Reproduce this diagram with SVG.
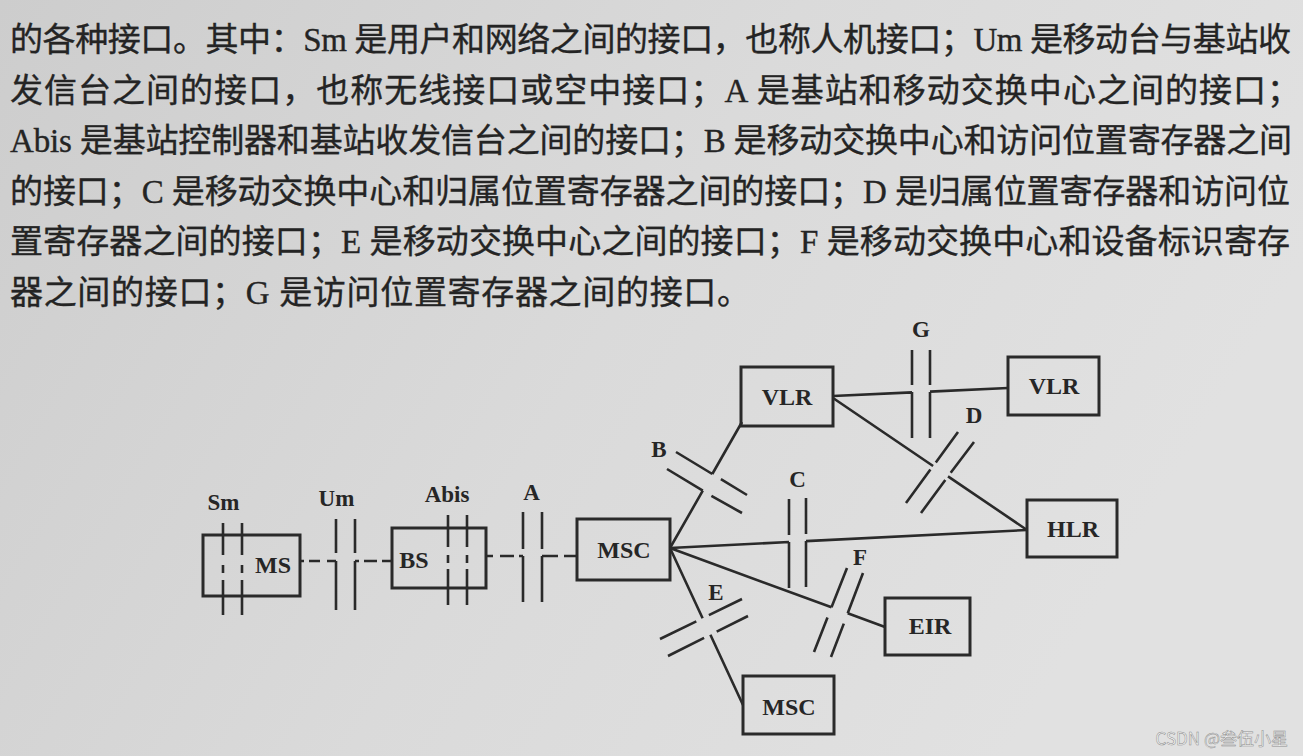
<svg xmlns="http://www.w3.org/2000/svg" width="1303" height="756" viewBox="0 0 1303 756">
<defs>
<linearGradient id="paper" x1="0" y1="0" x2="1" y2="0.35">
<stop offset="0" stop-color="#cdcdcd"/>
<stop offset="0.55" stop-color="#dadada"/>
<stop offset="1" stop-color="#e1e1e1"/>
</linearGradient>
<style>
.body{font-family:"Liberation Serif","Noto Sans CJK SC",serif;font-size:33px;fill:#242424;stroke:#242424;stroke-width:0.35}
.lbl{font-family:"Liberation Serif",serif;font-weight:bold;font-size:23px;fill:#262626;text-anchor:middle}
.nm{font-family:"Liberation Serif",serif;font-weight:bold;font-size:24px;fill:#262626;text-anchor:middle}
.box{fill:none;stroke:#2a2a2a;stroke-width:3}
.ln{fill:none;stroke:#2a2a2a;stroke-width:2.6}
.wm{font-family:"Noto Sans CJK SC",sans-serif;font-size:17px;fill:#f8f8f8;stroke:#8a8a8a;stroke-width:0.5;text-anchor:end}
</style>
</defs>
<rect x="0" y="0" width="1303" height="756" fill="url(#paper)"/>

<g id="text">
<text class="body" x="10" y="51" textLength="1281" lengthAdjust="spacing">的各种接口。其中：Sm 是用户和网络之间的接口，也称人机接口；Um 是移动台与基站收</text>
<text class="body" x="10" y="101.5" textLength="1290" lengthAdjust="spacing">发信台之间的接口，也称无线接口或空中接口；A 是基站和移动交换中心之间的接口；</text>
<text class="body" x="10" y="152" textLength="1282" lengthAdjust="spacing">Abis 是基站控制器和基站收发信台之间的接口；B 是移动交换中心和访问位置寄存器之间</text>
<text class="body" x="10" y="202.5" textLength="1280" lengthAdjust="spacing">的接口；C 是移动交换中心和归属位置寄存器之间的接口；D 是归属位置寄存器和访问位</text>
<text class="body" x="10" y="253" textLength="1280" lengthAdjust="spacing">置寄存器之间的接口；E 是移动交换中心之间的接口；F 是移动交换中心和设备标识寄存</text>
<text class="body" x="10" y="303.5" textLength="740" lengthAdjust="spacing">器之间的接口；G 是访问位置寄存器之间的接口。</text>
</g>

<g id="node-MS"><rect class="box" x="203" y="535" width="97" height="61"/><text class="nm" x="273" y="573">MS</text></g>
<g id="node-BS"><rect class="box" x="392" y="528" width="94" height="60"/><text class="nm" x="414" y="568">BS</text></g>
<g id="node-MSC"><rect class="box" x="577" y="519" width="93" height="61"/><text class="nm" x="624" y="558">MSC</text></g>
<g id="node-VLR1"><rect class="box" x="741" y="367" width="92" height="59"/><text class="nm" x="787" y="405">VLR</text></g>
<g id="node-VLR2"><rect class="box" x="1008" y="357" width="91" height="58"/><text class="nm" x="1054" y="394">VLR</text></g>
<g id="node-HLR"><rect class="box" x="1027" y="500" width="90" height="57"/><text class="nm" x="1073" y="537">HLR</text></g>
<g id="node-EIR"><rect class="box" x="885" y="598" width="85" height="57"/><text class="nm" x="930" y="634">EIR</text></g>
<g id="node-MSC2"><rect class="box" x="743" y="676" width="91" height="58"/><text class="nm" x="789" y="715">MSC</text></g>

<g id="connectors">
<g id="if-Sm"><path class="ln" d="M223 523V555M223 565V573M223 580V615M242 523V555M242 565V573M242 580V615"/><text class="lbl" x="223.5" y="510">Sm</text></g>
<g id="if-Um"><path class="ln" d="M300 561H304M309 561H320M327 561H336M336 519V553M336 561V610M355 519V553M355 561V610M355 561H359M364 561H377M382 561H392"/><text class="lbl" x="336.5" y="506">Um</text></g>
<g id="if-Abis"><path class="ln" d="M448 515V547M448 555V563M448 569V605M467 515V547M467 555V563M467 569V605"/><text class="lbl" x="447" y="502">Abis</text></g>
<g id="if-A"><path class="ln" d="M486 556H493M500 556H514M519 556H523M523 512V549M523 556V602M542 512V549M542 556V602M542 556H558M564 556H577"/><text class="lbl" x="531.5" y="500">A</text></g>
<g id="if-B"><path class="ln" d="M670 548L702.8 490.7M712.3 474L742 422M676 452L712.3 474M720.9 479.2L747 495M667 469L702.8 490.7M711.4 495.9L742 513"/><text class="lbl" x="659" y="457">B</text></g>
<g id="if-C"><path class="ln" d="M670 548L789 542M806 541.1L1027 530M789 499V535M789 542V588M806 498V534M806 541V587"/><text class="lbl" x="797.5" y="487">C</text></g>
<g id="if-G"><path class="ln" d="M833 396L912 392.4M930 391.6L1008 388M912 350V385M912 392V438M930 350V385M930 392V438"/><text class="lbl" x="921" y="337">G</text></g>
<g id="if-D"><path class="ln" d="M833 398L933.1 466M948 476.3L1027 530M906 503L930.4 469.6M935.8 462.4L958 432M921 513L945.3 479.9M950.7 472.7L974 442"/><text class="lbl" x="974" y="423">D</text></g>
<g id="if-E"><path class="ln" d="M670 548L702.6 618.2M710.4 634.8L743 705M660 639L696.3 621.3M708.9 615.1L742 599M668 656L704.1 637.9M716.7 631.7L748 616"/><text class="lbl" x="716" y="600">E</text></g>
<g id="if-F"><path class="ln" d="M670 548L831.5 607.3M847.7 613.3L885 627M847 568L831.5 607.3M827.5 617.5L814 652M863 573L847.7 613.3M843.8 623.6L831 657"/><text class="lbl" x="860" y="565">F</text></g>
</g>

<text class="wm" x="1288" y="745">CSDN @叁伍小星</text>
</svg>
